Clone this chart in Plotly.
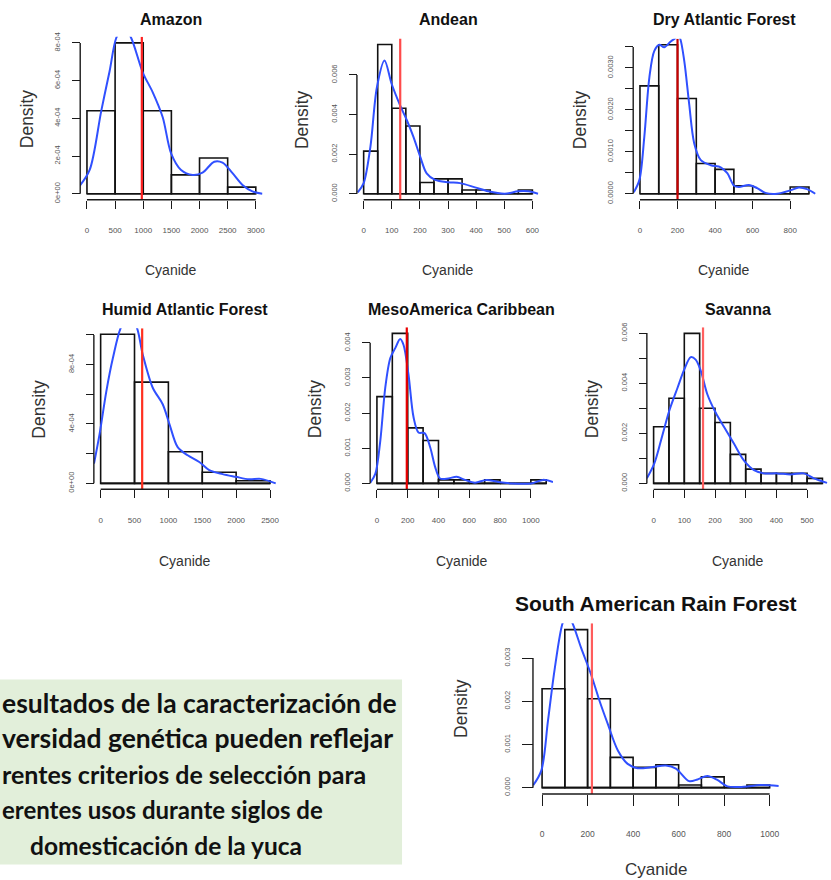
import plotly.graph_objects as go

W, H = 831, 880

# ---------------- Cyanide histograms by region ----------------
amazon_breaks = [0, 500, 1000, 1500, 2000, 2500, 3000]
amazon_density = [4.4e-4, 8.0e-4, 4.4e-4, 1.0e-4, 1.9e-4, 3.5e-5]
amazon_mean = 975
amazon_kde_x = [-129, 48, 255, 402, 520, 650, 786, 992, 1169, 1346, 1495, 1672, 1877,
                2054, 2262, 2409, 2586, 2763, 2940, 3117]
amazon_kde_y = [4.2e-5, 1.26e-4, 4.41e-4, 6.5e-4, 8.26e-4, 8.9e-4, 8.26e-4, 6.43e-4, 5.38e-4,
                4.06e-4, 2.14e-4, 1.26e-4, 1.0e-4, 1.12e-4, 1.70e-4, 1.65e-4, 1.09e-4, 4.7e-5,
                1.3e-5, 0]
amazon_xticks = [0, 500, 1000, 1500, 2000, 2500, 3000]
amazon_yticks = [0, 2e-4, 4e-4, 6e-4, 8e-4]
amazon_ylabels = ["0e+00", "2e-04", "4e-04", "6e-04", "8e-04"]

andean_breaks = [0, 50, 100, 150, 200, 250, 300, 350, 400, 450, 500, 550, 600]
andean_density = [0.00215, 0.00754, 0.00432, 0.00342, 0.00057, 0.00075, 0.00075,
                  0.000185, 0.000185, 0, 0, 0.000185]
andean_mean = 130
andean_kde_x = [-21, 0, 24, 47, 74, 100, 130, 154, 177, 201, 224, 254, 301, 343, 396,
                443, 502, 549, 585, 620]
andean_kde_y = [0.00007, 0.000535, 0.00237, 0.00537, 0.00673, 0.00553, 0.00445, 0.0037,
                0.00287, 0.00187, 0.00103, 0.0007, 0.00058, 0.000535, 0.00032, 0.00012,
                0.0, 0.00012, 0.00012, 0.0]
andean_xticks = [0, 100, 200, 300, 400, 500, 600]
andean_yticks = [0, 0.002, 0.004, 0.006]
andean_ylabels = ["0.000", "0.002", "0.004", "0.006"]

dry_breaks = [0, 100, 200, 300, 400, 500, 600, 700, 800, 900]
dry_density = [0.00257, 0.00355, 0.00227, 0.00072, 0.00058, 0.00019, 0, 0, 0.00016]
dry_mean = 200
dry_kde_x = [-33, -3, 23, 50, 76, 103, 129, 164, 186, 200, 214, 236, 262, 289, 324, 377,
             430, 465, 501, 527, 580, 624, 668, 730, 801, 846, 890, 934]
dry_kde_y = [0.000033, 0.00033, 0.00135, 0.00277, 0.0034, 0.00355, 0.00349, 0.00363,
             0.0037, 0.0038, 0.0037, 0.00316, 0.00214, 0.0012, 0.0008, 0.00068, 0.00063,
             0.00049, 0.00019, 0.00016, 0.00021, 0.000134, 0.00002, 0.0, 0.00008,
             0.00015, 0.00011, 0.0]
dry_xticks = [0, 200, 400, 600, 800]
dry_yticks = [0, 0.0005, 0.001, 0.0015, 0.002, 0.0025, 0.003, 0.0035]
dry_ylabels = ["0.0000", "", "0.0010", "", "0.0020", "", "0.0030", ""]

humid_breaks = [0, 500, 1000, 1500, 2000, 2500]
humid_density = [1.004e-3, 6.82e-4, 2.13e-4, 7.5e-5, 1.7e-5]
humid_mean = 613
humid_kde_x = [-98, -15, 84, 181, 304, 412, 525, 622, 769, 916, 1015, 1137, 1284, 1456,
               1603, 1799, 1995, 2191, 2363, 2584]
humid_kde_y = [1.33e-4, 3.33e-4, 6.2e-4, 8.44e-4, 1.055e-3, 1.12e-3, 1.06e-3, 8.67e-4,
               6.44e-4, 5.33e-4, 4.0e-4, 2.44e-4, 1.89e-4, 1.44e-4, 8.9e-5, 6.2e-5,
               4.4e-5, 2.7e-5, 3.0e-5, 0]
humid_xticks = [0, 500, 1000, 1500, 2000, 2500]
humid_yticks = [0, 2e-4, 4e-4, 6e-4, 8e-4, 1e-3]
humid_ylabels = ["0e+00", "", "4e-04", "", "8e-04", ""]

meso_breaks = [0, 100, 200, 300, 400, 500, 600, 700, 800, 900, 1000, 1100]
meso_density = [0.00247, 0.00427, 0.00158, 0.00122, 0.0001, 0.0001, 0, 0.0001, 0, 0, 0.0001]
meso_mean = 194
meso_kde_x = [-43, -10, 22, 54, 87, 119, 151, 173, 205, 238, 270, 309, 346, 378, 410, 464,
              518, 572, 637, 712, 788, 874, 1003, 1079, 1144]
meso_kde_y = [0.00002, 0.00028, 0.00122, 0.00272, 0.00357, 0.00385, 0.00411, 0.00394,
              0.0031, 0.00188, 0.00145, 0.00143, 0.00103, 0.00047, 0.00014, 0.00014,
              0.00019, 0.0001, 0.00002, 0.0001, 0.00004, 0, 0, 0.0001, 0.00004]
meso_xticks = [0, 200, 400, 600, 800, 1000]
meso_yticks = [0, 0.001, 0.002, 0.003, 0.004]
meso_ylabels = ["0.000", "0.001", "0.002", "0.003", "0.004"]

savanna_breaks = [0, 50, 100, 150, 200, 250, 300, 350, 400, 450, 500, 550]
savanna_density = [0.00226, 0.0034, 0.00599, 0.003, 0.00243, 0.00116, 0.00057, 0.0004,
                   0.0004, 0.0004, 0.0002]
savanna_mean = 161
savanna_kde_x = [-22, 2, 24, 51, 78, 100, 121, 137, 154, 175, 202, 230, 262, 294, 327,
                 359, 403, 446, 489, 522, 565]
savanna_kde_y = [0.0002, 0.00079, 0.00171, 0.0029, 0.00382, 0.00455, 0.00504, 0.00494,
                 0.00448, 0.00356, 0.00283, 0.00224, 0.00158, 0.00092, 0.00053, 0.0004,
                 0.0004, 0.00036, 0.0004, 0.0002, 0.00002]
savanna_xticks = [0, 100, 200, 300, 400, 500]
savanna_yticks = [0, 0.001, 0.002, 0.003, 0.004, 0.005, 0.006]
savanna_ylabels = ["0.000", "", "0.002", "", "0.004", "", "0.006"]

sarf_breaks = [0, 100, 200, 300, 400, 500, 600, 700, 800, 900, 1000]
sarf_density = [0.00229, 0.00366, 0.00206, 0.0007, 0.00047, 0.00053, 0.00006, 0.00025, 0,
                0.00006]
sarf_mean = 219
sarf_kde_x = [-39, -3, 26, 56, 92, 111, 131, 172, 216, 253, 289, 333, 376, 420, 478, 544,
              588, 646, 683, 726, 770, 814, 887, 960, 1040]
sarf_kde_y = [0.000055, 0.0004, 0.00155, 0.00277, 0.00384, 0.0040, 0.00384, 0.00323,
              0.00261, 0.002, 0.00147, 0.00086, 0.00055, 0.00045, 0.00047, 0.00051,
              0.00044, 0.00015, 0.00019, 0.00027, 0.00018, 0.00003, 0.00002, 0.00006,
              0.00004]
sarf_xticks = [0, 200, 400, 600, 800, 1000]
sarf_yticks = [0, 0.001, 0.002, 0.003]
sarf_ylabels = ["0.000", "0.001", "0.002", "0.003"]

titles = ["Amazon", "Andean", "Dry Atlantic Forest", "Humid Atlantic Forest",
          "MesoAmerica Caribbean", "Savanna", "South American Rain Forest"]

note_lines = ["esultados de la caracterización de",
              "versidad genética pueden reflejar",
              "rentes criterios de selección para",
              "erentes usos durante siglos de",
              "domesticación de la yuca"]

# ---------------- layout of the panels (pixels) ----------------
# plot box: left, right, top, bottom ; title y ; xlabel y ; ylabel x ; big = bottom row
boxes = [
    dict(box=(80.5, 263.5, 32.2, 196.8), ty=15, cy=268, dx=27, big=False, red="#ff2020"),
    dict(box=(358.2, 541.1, 33.9, 196.7), ty=15, cy=268, dx=303, big=False, red="#ff4a4a"),
    dict(box=(635.5, 818.7, 34.2, 196.7), ty=15, cy=268, dx=582, big=False, red="#c80000"),
    dict(box=(94.2, 277.8, 326.7, 489.3), ty=308, cy=562, dx=39, big=False, red="#ff3020"),
    dict(box=(371.5, 555.0, 325.7, 489.4), ty=308, cy=562, dx=317, big=False, red="#e80000"),
    dict(box=(649.2, 832.2, 325.7, 489.4), ty=308, cy=562, dx=595, big=False, red="#ff6060"),
    dict(box=(534.9, 781.6, 624.7, 797.1), ty=605, cy=873, dx=462, big=True, red="#ff5c5c"),
]

series = [
    (amazon_breaks, amazon_density, amazon_mean, amazon_kde_x, amazon_kde_y,
     amazon_xticks, amazon_yticks, amazon_ylabels),
    (andean_breaks, andean_density, andean_mean, andean_kde_x, andean_kde_y,
     andean_xticks, andean_yticks, andean_ylabels),
    (dry_breaks, dry_density, dry_mean, dry_kde_x, dry_kde_y,
     dry_xticks, dry_yticks, dry_ylabels),
    (humid_breaks, humid_density, humid_mean, humid_kde_x, humid_kde_y,
     humid_xticks, humid_yticks, humid_ylabels),
    (meso_breaks, meso_density, meso_mean, meso_kde_x, meso_kde_y,
     meso_xticks, meso_yticks, meso_ylabels),
    (savanna_breaks, savanna_density, savanna_mean, savanna_kde_x, savanna_kde_y,
     savanna_xticks, savanna_yticks, savanna_ylabels),
    (sarf_breaks, sarf_density, sarf_mean, sarf_kde_x, sarf_kde_y,
     sarf_xticks, sarf_yticks, sarf_ylabels),
]

SANS = "Liberation Sans, Arial, sans-serif"
INK = "#1a1a1a"
TICK_INK = "#555555"


def fx(p):
    return p / W


def fy(p):
    return 1 - p / H


fig = go.Figure()
shapes = []
annotations = []

for i, (geo, data, title) in enumerate(zip(boxes, series, titles), start=1):
    breaks, dens, mean, kx, ky, xt, yt, ylab = data
    l, r, t, b = geo["box"]
    big = geo["big"]
    xa = "x" if i == 1 else f"x{i}"
    ya = "y" if i == 1 else f"y{i}"
    xkey = "xaxis" if i == 1 else f"xaxis{i}"
    ykey = "yaxis" if i == 1 else f"yaxis{i}"

    # R-style 4% padding around the data extent
    span = breaks[-1] - breaks[0]
    x_lo, x_hi = breaks[0] - 0.04 * span, breaks[-1] + 0.04 * span
    if r > W:
        x_hi = x_lo + (x_hi - x_lo) * (W - l) / (r - l)
        r = W
    ymax = max(dens)
    y_lo, y_hi = -0.04 * ymax, 1.04 * ymax

    centers = [(a + c) / 2 for a, c in zip(breaks[:-1], breaks[1:])]
    widths = [c - a for a, c in zip(breaks[:-1], breaks[1:])]

    fig.add_trace(go.Bar(x=centers, y=dens, width=widths, xaxis=xa, yaxis=ya,
                         marker=dict(color="rgba(0,0,0,0)",
                                     line=dict(color="#111111", width=1.6)),
                         showlegend=False, hoverinfo="skip"))
    fig.add_trace(go.Scatter(x=[breaks[0], breaks[-1]], y=[0, 0], mode="lines",
                             xaxis=xa, yaxis=ya, line=dict(color="#111111", width=1.6),
                             showlegend=False, hoverinfo="skip"))
    fig.add_trace(go.Scatter(x=kx, y=ky, mode="lines", xaxis=xa, yaxis=ya,
                             line=dict(color="#3050ff", width=2, shape="spline",
                                       smoothing=0.9),
                             showlegend=False, hoverinfo="skip"))
    fig.add_trace(go.Scatter(x=[mean, mean], y=[y_lo, y_hi], mode="lines",
                             xaxis=xa, yaxis=ya, line=dict(color=geo["red"], width=2.2),
                             showlegend=False, hoverinfo="skip"))

    tlen = 11 if big else 8
    xfont = dict(family=SANS, size=8.5 if big else 8, color=TICK_INK)
    yfont = dict(family=SANS, size=7.5, color=TICK_INK)

    fig.layout[xkey] = dict(
        domain=[fx(l), fx(r)], range=[x_lo, x_hi], anchor="free", position=fy(b),
        tickmode="array", tickvals=xt, ticktext=[str(v) for v in xt],
        ticks="outside", ticklen=tlen, tickwidth=1.4, tickcolor=INK,
        tickfont=xfont, ticklabelstandoff=21 if big else 15,
        showline=False, showgrid=False, zeroline=False, fixedrange=True)
    fig.layout[ykey] = dict(
        domain=[fy(b), fy(t)], range=[y_lo, y_hi], anchor="free", position=fx(l),
        tickmode="array", tickvals=yt, ticktext=ylab, tickangle=-90,
        ticks="outside", ticklen=tlen, tickwidth=1.4, tickcolor=INK,
        tickfont=yfont, ticklabelstandoff=9,
        showline=False, showgrid=False, zeroline=False, fixedrange=True)

    # axis lines spanning first to last tick only
    def xpaper(v):
        return fx(l) + (v - x_lo) / (x_hi - x_lo) * (fx(r) - fx(l))

    def ypaper(v):
        return fy(b) + (v - y_lo) / (y_hi - y_lo) * (fy(t) - fy(b))

    shapes.append(dict(type="line", xref="paper", yref="paper",
                       x0=xpaper(xt[0]), x1=xpaper(xt[-1]), y0=fy(b), y1=fy(b),
                       line=dict(color=INK, width=1.4)))
    shapes.append(dict(type="line", xref="paper", yref="paper",
                       x0=fx(l), x1=fx(l), y0=ypaper(yt[0]), y1=ypaper(yt[-1]),
                       line=dict(color=INK, width=1.4)))

    cx = (l + geo["box"][1]) / 2
    annotations.append(dict(
        text=f"<b>{title}</b>", x=fx(cx), y=fy(geo["ty"]), xref="paper", yref="paper",
        xanchor="center", yanchor="middle", showarrow=False,
        font=dict(family=SANS, size=21 if big else 16, color="#111")))
    annotations.append(dict(
        text="Cyanide", x=fx(cx), y=fy(geo["cy"]), xref="paper", yref="paper",
        xanchor="center", yanchor="middle", showarrow=False,
        font=dict(family=SANS, size=17 if big else 14, color="#333")))
    annotations.append(dict(
        text="Density", x=fx(geo["dx"]), y=fy((t + b) / 2), xref="paper", yref="paper",
        xanchor="center", yanchor="middle", showarrow=False, textangle=-90,
        font=dict(family=SANS, size=17.5, color="#333")))

# text panel
shapes.append(dict(type="rect", xref="paper", yref="paper", x0=0, x1=fx(403.5),
                   y0=fy(868.5), y1=fy(681.5), fillcolor="#E2EFDA", line=dict(width=0),
                   layer="below"))
# (anchor x, anchor side, font size, y) for each line of the note
note_place = [(0.5, "left", 26.5, 705), (0.5, "left", 26.5, 741),
              (0.5, "left", 25, 777), (0.5, "left", 24, 813), (305, "right", 24.5, 849)]
for txt, (ax, side, fs, yy) in zip(note_lines, note_place):
    annotations.append(dict(
        text=f"<b>{txt}</b>", x=fx(ax), y=fy(yy), xref="paper", yref="paper",
        xanchor=side, yanchor="middle", showarrow=False,
        font=dict(family="Lato, Carlito, Open Sans, sans-serif", size=fs, color="#111")))

fig.update_layout(
    width=W, height=H, autosize=False,
    margin=dict(l=0, r=0, t=0, b=0, pad=0),
    paper_bgcolor="white", plot_bgcolor="rgba(0,0,0,0)",
    shapes=shapes, annotations=annotations, showlegend=False,
    barmode="overlay",
)

fig.write_html("out.html", config={"displayModeBar": False})
